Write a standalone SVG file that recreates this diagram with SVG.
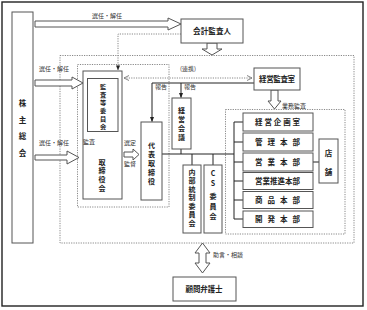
<svg xmlns="http://www.w3.org/2000/svg" width="367" height="310" viewBox="0 0 367 310">
<style>
.box{fill:#fff;stroke:#555;stroke-width:1}
.dot{fill:none;stroke:#888;stroke-width:1;stroke-dasharray:1.2 1.2}
.ln{fill:none;stroke:#222;stroke-width:1}
.hol{fill:#fff;stroke:#555;stroke-width:1}
.t{font-family:"Noto Sans CJK JP","Noto Sans CJK SC",sans-serif;font-size:7.5px;font-weight:bold;fill:#222;text-anchor:middle}
.c{font-family:"Noto Sans CJK JP","Noto Sans CJK SC",sans-serif;font-size:7px;font-weight:bold;fill:#222;text-anchor:middle}
.k{font-size:6.2px}
.s{font-family:"Noto Sans CJK JP","Noto Sans CJK SC",sans-serif;font-size:6px;fill:#333}
</style>
<defs>
<marker id="tri" viewBox="0 0 6 6" refX="5.5" refY="3" markerWidth="5" markerHeight="5" orient="auto"><path d="M0,0.5 L6,3 L0,5.5 Z" fill="#222"/></marker>
<marker id="chev" viewBox="0 0 6 6" refX="5.5" refY="3" markerWidth="6" markerHeight="6" orient="auto-start-reverse"><path d="M0.5,0.5 L5.5,3 L0.5,5.5" fill="none" stroke="#777" stroke-width="0.9"/></marker>
</defs>
<rect x="2" y="2" width="361" height="304" fill="#fff" stroke="#222" stroke-width="1.4"/>

<g id="frames">
<rect class="dot" x="60" y="55.5" width="294" height="187.5"/>
<rect class="dot" x="77.5" y="64.5" width="91.5" height="142.5"/>
<rect class="dot" x="225.5" y="109.5" width="119.5" height="124.5"/>
</g>

<g id="connectors">
<polygon class="hol" points="35,21 168,21 168,18 181,24 168,30 168,27 35,27"/>
<polygon class="hol" points="35,80 72,80 72,77 83,83 72,89 72,86 35,86"/>
<polygon class="hol" points="35,155 67,155 67,151 79,157.5 67,164 67,160 35,160"/>
<polygon class="hol" points="99,133 105,133 105,147 107.5,147 102,155 96.5,147 99,147"/>
<polygon class="hol" points="124,152 133,152 133,149 139,154.5 133,160 133,157 124,157"/>
<polygon class="hol" points="207,43 217,43 217,49 222,49 212,55 202,49 207,49"/>
<polygon class="hol" points="271,90 278,90 278,101 281,101 274.5,109 268,101 271,101"/>
<polygon class="hol" points="202.5,243 210,253 206,253 206,263 210,263 202.5,273 195,263 199,263 199,253 195,253"/>
<polyline class="dot" points="181,34 118,34 118,70" marker-end="url(#tri)" stroke="#555"/>
<line class="dot" x1="124" y1="78" x2="252" y2="78" marker-start="url(#chev)" marker-end="url(#chev)"/>
<line class="ln" x1="152" y1="83" x2="254" y2="83"/>
<line class="ln" x1="152" y1="83" x2="152" y2="121.5" marker-end="url(#tri)"/>
<line class="ln" x1="181" y1="83" x2="181" y2="97.5" marker-end="url(#tri)"/>
<path class="ln" d="M162,154 H234 M181,149 V154 M192,154 V165 M213,154 V165"/>
<path class="ln" d="M234,122 V219 M234,122 H243 M234,142 H243 M234,162 H243 M234,181 H243 M234,200 H243 M234,219 H243 M313,162 H319"/>
</g>

<g id="n-kabunushi"><rect class="box" x="12" y="12" width="21" height="231"/>
<text class="t" x="22.5" y="106">株</text><text class="t" x="22.5" y="122.5">主</text><text class="t" x="22.5" y="139">総</text><text class="t" x="22.5" y="156">会</text></g>

<g id="n-kaikei"><rect class="box" x="181" y="19" width="62" height="24"/>
<text class="t" x="212" y="34" textLength="38" lengthAdjust="spacing">会計監査人</text></g>

<g id="n-torishimariyakukai"><rect class="box" x="83" y="71" width="39" height="128"/>
<text class="c" x="102" y="164.5">取</text><text class="c" x="102" y="173.2">締</text><text class="c" x="102" y="181.9">役</text><text class="c" x="102" y="190.6">会</text></g>

<g id="n-kansa"><rect class="box" x="87.5" y="78.5" width="30.5" height="53"/>
<text class="c k" x="103" y="88.7">監</text><text class="c k" x="103" y="96.7">査</text><text class="c k" x="103" y="104.7">等</text><text class="c k" x="103" y="112.7">委</text><text class="c k" x="103" y="120.7">員</text><text class="c k" x="103" y="128.7">会</text></g>

<g id="n-daihyo"><rect class="box" x="141" y="122" width="21" height="78"/>
<text class="c" x="151.5" y="147.5">代</text><text class="c" x="151.5" y="156.5">表</text><text class="c" x="151.5" y="165.5">取</text><text class="c" x="151.5" y="174.5">締</text><text class="c" x="151.5" y="183.5">役</text></g>

<g id="n-keieikaigi"><rect class="box" x="172" y="98" width="19" height="51"/>
<text class="c" x="181.5" y="112.5">経</text><text class="c" x="181.5" y="121.5">営</text><text class="c" x="181.5" y="130.5">会</text><text class="c" x="181.5" y="139.5">議</text></g>

<g id="n-keieikansa"><rect class="box" x="254" y="68" width="46" height="22"/>
<text class="t" x="277" y="81.5" textLength="36" lengthAdjust="spacing">経営監査室</text></g>

<g id="n-naibu"><rect class="box" x="183" y="165" width="18" height="68"/>
<text class="c" x="192" y="174.5">内</text><text class="c" x="192" y="183">部</text><text class="c" x="192" y="191.5">統</text><text class="c" x="192" y="200">制</text><text class="c" x="192" y="208.5">委</text><text class="c" x="192" y="217">員</text><text class="c" x="192" y="225.5">会</text></g>

<g id="n-cs"><rect class="box" x="204" y="165" width="18" height="68"/>
<text class="c" x="213" y="175.5">C</text><text class="c" x="213" y="186">S</text><text class="c" x="213" y="198.5">委</text><text class="c" x="213" y="208.5">員</text><text class="c" x="213" y="218.5">会</text></g>

<g id="n-kikaku"><rect class="box" x="243" y="113" width="70" height="18"/><text class="t" x="277.5" y="125" textLength="45" lengthAdjust="spacing">経営企画室</text></g>
<g id="n-kanri"><rect class="box" x="243" y="133" width="70" height="18"/><text class="t" x="277.5" y="145" textLength="45" lengthAdjust="spacing">管理本部</text></g>
<g id="n-eigyo"><rect class="box" x="243" y="153" width="70" height="18"/><text class="t" x="277.5" y="165" textLength="45" lengthAdjust="spacing">営業本部</text></g>
<g id="n-suishin"><rect class="box" x="243" y="172.5" width="70" height="17"/><text class="t" x="277.5" y="184" textLength="45" lengthAdjust="spacing">営業推進本部</text></g>
<g id="n-shohin"><rect class="box" x="243" y="191.5" width="70" height="17"/><text class="t" x="277.5" y="203" textLength="45" lengthAdjust="spacing">商品本部</text></g>
<g id="n-kaihatsu"><rect class="box" x="243" y="211" width="70" height="16.5"/><text class="t" x="277.5" y="222" textLength="45" lengthAdjust="spacing">開発本部</text></g>

<g id="n-tenpo"><rect class="box" x="319" y="139" width="19" height="44"/>
<text class="t" x="328.5" y="156">店</text><text class="t" x="328.5" y="175">舗</text></g>

<g id="n-bengoshi"><rect class="box" x="173" y="277" width="63" height="24"/>
<text class="t" x="204" y="292" textLength="37" lengthAdjust="spacing">顧問弁護士</text></g>

<g id="labels">
<text class="s" x="92" y="18">選任・解任</text>
<text class="s" x="39" y="71">選任・解任</text>
<text class="s" x="39" y="145">選任・解任</text>
<text class="s" x="83" y="144">監査</text>
<text class="s" x="124" y="145">選定</text>
<text class="s" x="124" y="166">監督</text>
<text class="s" x="180" y="71">(連携)</text>
<text class="s" x="155" y="89">報告</text>
<text class="s" x="184" y="89">報告</text>
<text class="s" x="282" y="108">業務監査</text>
<text class="s" x="213" y="257">助言・相談</text>
</g>
</svg>
